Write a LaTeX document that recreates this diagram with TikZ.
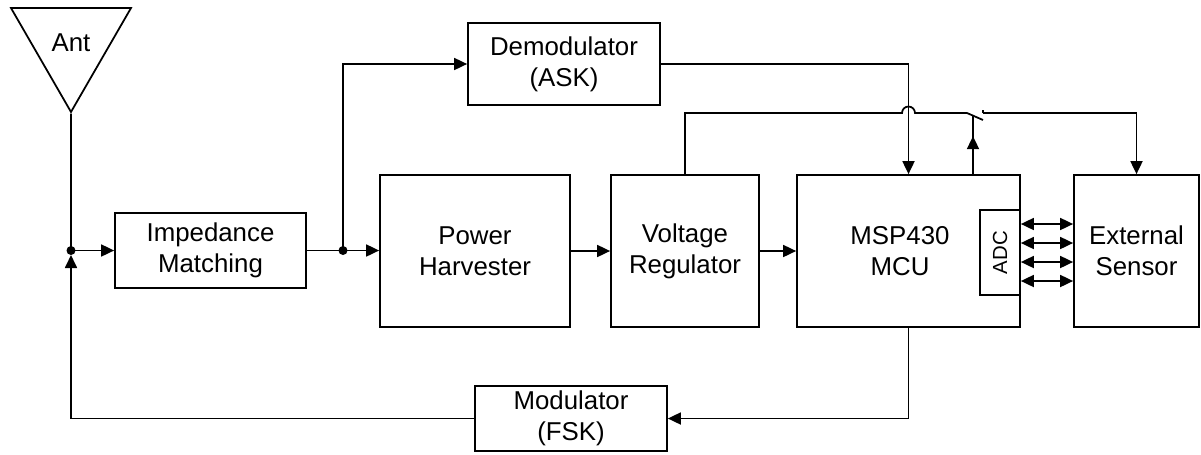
\documentclass[tikz,border=0pt]{standalone}
\usepackage{fontspec}
\setmainfont{Liberation Sans}
\usetikzlibrary{shapes.geometric, arrows.meta}
\tikzstyle{arrow} = [-{Triangle[length=.26cm,width=.24cm]}]
\tikzstyle{darrow} = [{Triangle[length=.26cm,width=.24cm]}-{Triangle[length=.26cm,width=.24cm]}]
\tikzstyle{lbl} = [align=center,inner sep=0pt,font=\fontsize{14.7}{17.7}\selectfont]
\tikzstyle{blk} = [lbl,draw]

\begin{document}
\begin{tikzpicture}[x=.02cm,y=-.02cm,line width=1pt]
  \useasboundingbox (0,0) rectangle (1201,454);
  \node[blk,regular polygon,regular polygon sides=3,shape border rotate=180,minimum size=2.77cm] (ant) at (71,42.7) {Ant};
  \node[blk,minimum width=3.82cm,minimum height=1.5cm] (imp) at (210.5,250.5) {Impedance\\Matching};
  \node[blk,minimum width=3.84cm,minimum height=1.64cm] (demod) at (564,64) {Demodulator\\(ASK)};
  \node[blk,minimum width=3.8cm,minimum height=3.04cm] (harv) at (475,251) {Power\\Harvester};
  \node[blk,minimum width=2.96cm,minimum height=3.04cm] (vreg) at (685,251) {Voltage\\Regulator};
  \node[blk,minimum width=4.46cm,minimum height=3.04cm] (mcu) at (908.5,251) {};
  \node[lbl] (mcutxt) at (900,251) {MSP430\\MCU};
  \node[draw,line width=.6pt,rotate=90,minimum width=1.7cm,minimum height=.8cm,inner sep=0pt,font=\fontsize{11.6}{14}\selectfont] (adc) at (1000,252.5) {ADC};
  \node[blk,minimum width=2.5cm,minimum height=3.04cm] (sens) at (1136.5,251) {External\\Sensor};
  \node[blk,minimum width=3.84cm,minimum height=1.3cm] (mod) at (571,418.5) {Modulator\\(FSK)};
  % junctions and switch
  \coordinate (j1) at (71,250.5);
  \coordinate (j2) at (343,250.5);
  \coordinate (swa) at (967,113);
  \coordinate (swb) at (983,113);
  \coordinate (swt) at (973,115.6);
  \fill (j1) circle[radius=.09cm];
  \fill (j2) circle[radius=.09cm];
  % receive path
  \draw (ant.south) -- (j1);
  \draw[arrow] (j1) -- (imp.west);
  \draw (imp.east) -- (j2);
  \draw[arrow] (j2) -- (j2 -| harv.west);
  \draw[arrow] (j2) |- (demod.west);
  \draw[arrow] (demod.east) -| (mcu.north);
  \draw[arrow] (harv.east) -- (vreg.west);
  \draw[arrow] (vreg.east) -- (mcu.west);
  % supply to sensor
  \draw (vreg.north) |- (902,113) arc[start angle=180,end angle=360,radius=6.5] -- (swa) -- ++(16,7);
  \draw (swb) -- ++(0,-3);
  \draw[arrow] (swb) -| (sens.north);
  \draw (mcu.north -| swt) -- (swt);
  \draw[arrow] (mcu.north -| swt) -- ++(0,-38);
  % ADC lines
  \foreach \y in {224,243,262,281}
    \draw[darrow] (mcu.east |- 0,\y) -- (sens.west |- 0,\y);
  % transmit path
  \draw[arrow] (mcu.south) |- (mod.east);
  \draw[arrow,shorten >=.09cm] (mod.west) -| (j1);
\end{tikzpicture}
\end{document}
